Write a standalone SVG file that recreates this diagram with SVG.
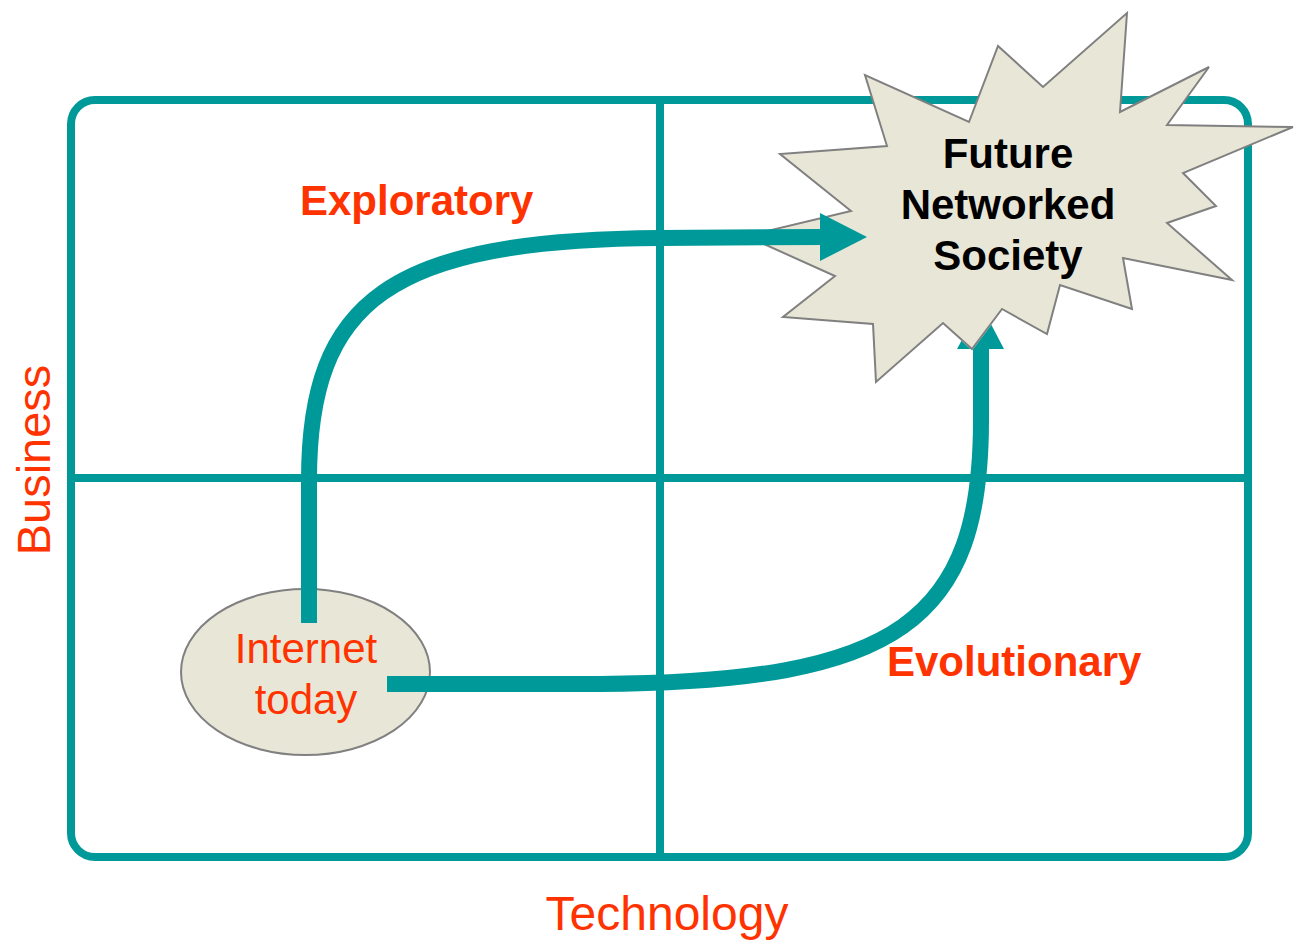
<svg xmlns="http://www.w3.org/2000/svg" width="1296" height="940" viewBox="0 0 1296 940">
<style>
.grid{fill:none;stroke:#009999;stroke-width:8}
.conn{fill:none;stroke:#009999;stroke-width:16}
.head{fill:#009999}
.shape{fill:#E8E7D7;stroke:#808080;stroke-width:2}
.lbl{font-family:"Liberation Sans",Arial,sans-serif;fill:#FF3300}
.b{font-weight:bold}
.blk{font-family:"Liberation Sans",Arial,sans-serif;font-weight:bold;fill:#000;font-size:42px;text-anchor:middle}
</style>
<defs>
<polygon id="star" points="1127,13 1120,112 1209,67 1167,125 1293,127 1183,173 1216,206 1167,223 1232,280 1123,258 1132,309 1060,285 1047,334 1002,309 972,349 943,323 876,382 873,324 783,317 835,276 746,236 851,211 780,154 887,146 865,75 969,122 998,46 1043,87"/>
<mask id="behindStar" maskUnits="userSpaceOnUse" x="0" y="0" width="1296" height="940">
<rect width="1296" height="940" fill="#fff"/>
<use href="#star" fill="#000" stroke="#000" stroke-width="2"/>
</mask>
</defs>
<rect width="1296" height="940" fill="#fff"/>
<g id="frame">
<rect class="grid" x="71" y="100" width="1177" height="757" rx="24"/>
<line class="grid" x1="660" y1="100" x2="660" y2="857"/>
<line class="grid" x1="71" y1="478" x2="1248" y2="478"/>
</g>
<g id="internet-today">
<ellipse class="shape" cx="305.5" cy="672" rx="124.5" ry="83"/>
<text class="lbl" font-size="42" text-anchor="middle" x="306" y="663">Internet</text>
<text class="lbl" font-size="42" text-anchor="middle" x="306" y="714">today</text>
</g>
<g id="future-networked-society">
<use href="#star" class="shape"/>
<text class="blk" x="1008" y="168">Future</text>
<text class="blk" x="1008" y="219">Networked</text>
<text class="blk" x="1008" y="270">Society</text>
</g>
<g id="connectors">
<g mask="url(#behindStar)">
<path class="conn" d="M387,684 L600,684 C900,682 981,620 981,420 L981,345"/>
<polygon class="head" points="957,349 981,305 1004,349"/>
</g>
<path class="conn" d="M309,623 L309,480 C309,300 390,240 660,238 L822,237"/>
<polygon class="head" points="820,213 867,237 820,261"/>
</g>
<g id="labels">
<text class="lbl b" font-size="42" x="300" y="215">Exploratory</text>
<text class="lbl b" font-size="42" x="887" y="676">Evolutionary</text>
<text class="lbl" font-size="48" text-anchor="middle" x="667" y="930">Technology</text>
<text class="lbl" font-size="47" text-anchor="middle" transform="translate(50,460) rotate(-90)">Business</text>
</g>
</svg>
